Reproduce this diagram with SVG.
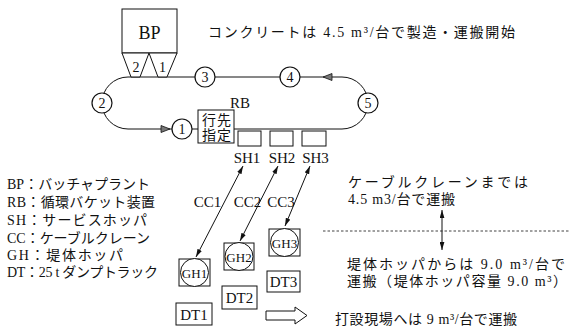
<svg xmlns="http://www.w3.org/2000/svg" width="570" height="331" viewBox="0 0 570 331">
<style>
text{font-family:"Liberation Serif","Noto Sans CJK JP",serif;fill:#111;}
.j{font-size:14px;}
.l{font-size:15px;}
.n{font-size:14px;text-anchor:middle;}
.g{font-size:13px;text-anchor:middle;}
.s{fill:none;stroke:#111;stroke-width:1;}
.w{fill:#fff;stroke:#111;stroke-width:1;}
.c{fill:#fff;stroke:#111;stroke-width:1.2;}
</style>
<defs>
<marker id="ah" viewBox="0 0 10 6" refX="10" refY="3" markerWidth="8" markerHeight="5" orient="auto-start-reverse" markerUnits="userSpaceOnUse">
<path d="M0,0 L10,3 L0,6 Z" fill="#111"/>
</marker>
</defs>
<rect width="570" height="331" fill="#fff"/>

<g id="connectors">
<path class="s" d="M128,77 L342,77 A26,26 0 0 1 342,129 L234,129 M198,129 L192,129 M172,129 L128,129 A26,26 0 0 1 128,77"/>
<polygon points="323,77 332,73.5 332,80.5" fill="#777" stroke="#111" stroke-width="0.8"/>
<polygon points="170,129 161,125.5 161,132.5" fill="#777" stroke="#111" stroke-width="0.8"/>
<line class="s" x1="243" y1="166" x2="196" y2="257" marker-start="url(#ah)" marker-end="url(#ah)"/>
<line class="s" x1="278" y1="166" x2="240" y2="241" marker-start="url(#ah)" marker-end="url(#ah)"/>
<line class="s" x1="310" y1="166" x2="285" y2="226" marker-start="url(#ah)" marker-end="url(#ah)"/>
<line class="s" x1="442" y1="210" x2="442" y2="250" marker-start="url(#ah)" marker-end="url(#ah)"/>
<line x1="323" y1="231" x2="570" y2="231" stroke="#111" stroke-width="0.8" stroke-dasharray="2.5,2"/>
<polygon class="w" points="266,311 295,311 295,307 307,315.5 295,324 295,320 266,320"/>
</g>

<g id="BP">
<rect class="w" x="122" y="9" width="55" height="44"/>
<text x="149.5" y="39" style="font-size:18px;text-anchor:middle">BP</text>
<polygon class="w" points="122,53 149,53 140,77 131,77"/>
<polygon class="w" points="149,53 177,53 167,77 158,77"/>
<text class="n" x="136" y="72">2</text>
<text class="n" x="162.5" y="72">1</text>
</g>

<g id="n1"><circle class="c" cx="182" cy="129" r="10"/><text class="n" x="182" y="134">1</text></g>
<g id="n2"><circle class="c" cx="102" cy="103" r="10"/><text class="n" x="102" y="108">2</text></g>
<g id="n3"><circle class="c" cx="205" cy="77" r="10"/><text class="n" x="205" y="82">3</text></g>
<g id="n4"><circle class="c" cx="290" cy="77" r="10"/><text class="n" x="290" y="82">4</text></g>
<g id="n5"><circle class="c" cx="368" cy="103" r="10"/><text class="n" x="368" y="108">5</text></g>

<g id="RB"><text class="l" x="240" y="108" text-anchor="middle">RB</text></g>

<g id="dest">
<rect class="w" x="198" y="110" width="36" height="33"/>
<text class="j" x="202" y="125" textLength="29">行先</text>
<text class="j" x="202" y="140" textLength="29">指定</text>
</g>

<g id="SH1"><rect class="w" x="238" y="131" width="23" height="15"/><text class="l" x="247" y="163" text-anchor="middle">SH1</text></g>
<g id="SH2"><rect class="w" x="270" y="131" width="23" height="15"/><text class="l" x="282" y="163" text-anchor="middle">SH2</text></g>
<g id="SH3"><rect class="w" x="302" y="131" width="24" height="15"/><text class="l" x="315.5" y="163" text-anchor="middle">SH3</text></g>

<g id="cc-labels">
<text class="l" x="207.5" y="207" text-anchor="middle">CC1</text>
<text class="l" x="247.5" y="207" text-anchor="middle">CC2</text>
<text class="l" x="281" y="207" text-anchor="middle">CC3</text>
</g>

<g id="GH1"><rect class="w" x="179" y="259" width="31" height="27"/><circle class="w" cx="194.5" cy="272.5" r="14"/><text class="g" x="194.5" y="277.5">GH1</text></g>
<g id="GH2"><rect class="w" x="224" y="243" width="30" height="27"/><circle class="w" cx="239" cy="256.5" r="14"/><text class="g" x="239" y="261.5">GH2</text></g>
<g id="GH3"><rect class="w" x="269" y="229" width="31" height="27"/><circle class="w" cx="284.5" cy="242.5" r="14"/><text class="g" x="284.5" y="247.5">GH3</text></g>

<g id="DT1"><rect class="w" x="176" y="303" width="36" height="22"/><text class="l" x="194" y="320" text-anchor="middle">DT1</text></g>
<g id="DT2"><rect class="w" x="222" y="286" width="35" height="23"/><text class="l" x="239.5" y="303" text-anchor="middle">DT2</text></g>
<g id="DT3"><rect class="w" x="267" y="271" width="33" height="21"/><text class="l" x="283.5" y="287" text-anchor="middle">DT3</text></g>

<g id="legend">
<text class="j" x="7" y="189" textLength="143">BP：バッチャプラント</text>
<text class="j" x="7" y="207" textLength="148">RB：循環バケット装置</text>
<text class="j" x="7" y="225" textLength="140">SH：サービスホッパ</text>
<text class="j" x="7" y="243" textLength="143">CC：ケーブルクレーン</text>
<text class="j" x="7" y="260" textLength="116">GH：堤体ホッパ</text>
<text class="j" x="7" y="277" textLength="151">DT：25 t ダンプトラック</text>
</g>

<g id="notes">
<text class="j" x="208" y="37" textLength="307">コンクリートは 4.5 m³/台で製造・運搬開始</text>
<text class="j" x="348" y="187" textLength="180">ケーブルクレーンまでは</text>
<text class="j" x="348" y="204" textLength="107">4.5 m3/台で運搬</text>
<text class="j" x="347" y="269" textLength="218">堤体ホッパからは 9.0 m³/台で</text>
<text class="j" x="347" y="286" textLength="220">運搬（堤体ホッパ容量 9.0 m³）</text>
<text class="j" x="335" y="324" textLength="182">打設現場へは 9 m³/台で運搬</text>
</g>
</svg>
